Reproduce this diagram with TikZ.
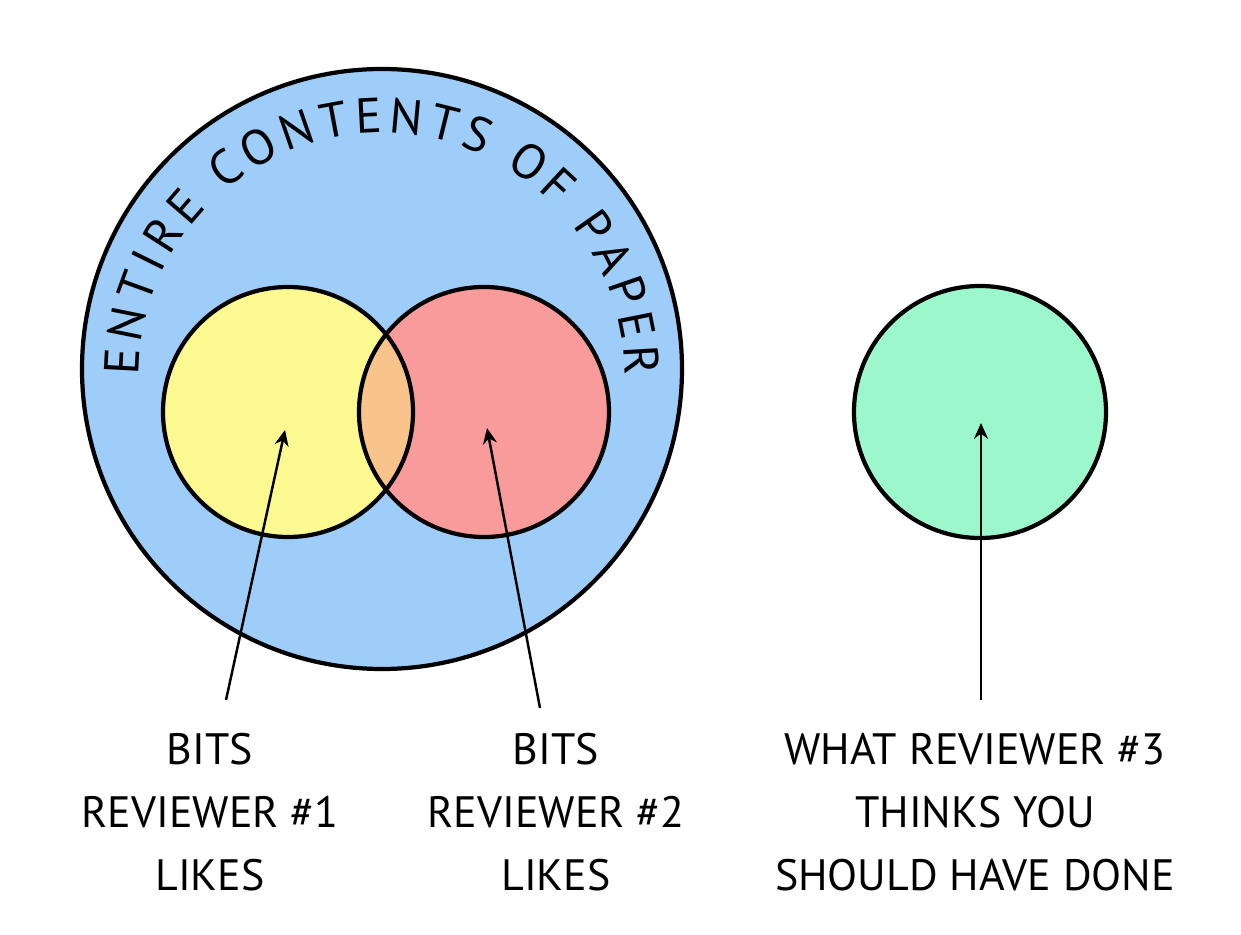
\documentclass[tikz,border=0pt]{standalone}
\usepackage{fontspec}
\setmainfont{PT Sans}
\usetikzlibrary{decorations.text,arrows.meta}
\definecolor{bigblue}{HTML}{9DCDF8}
\definecolor{yel}{HTML}{FBF98F}
\definecolor{redc}{HTML}{F99B9B}
\definecolor{ovl}{HTML}{F8C48C}
\definecolor{grn}{HTML}{9CF8CC}
\begin{document}
\begin{tikzpicture}[x=0.02cm,y=-0.02cm,
  ln/.style={line width=2.4pt,draw=black},
  lab/.style={font=\fontsize{25}{32}\selectfont,align=center,inner sep=0pt},
  arr/.style={line width=1.4pt,-{Stealth[length=9pt,width=8pt]}}]
\useasboundingbox (0,0) rectangle (1241,935);
\fill[white] (0,0) rectangle (1241,935);
\node[circle,minimum size=600*0.02cm,fill=bigblue,ln] (big) at (382,369) {};
\coordinate (yc) at (288,412);
\coordinate (rc) at (484,412);
\fill[yel] (yc) circle[radius=125];
\fill[redc] (rc) circle[radius=125];
\begin{scope}
\clip (yc) circle[radius=125];
\fill[ovl] (rc) circle[radius=125];
\end{scope}
\node[circle,minimum size=250*0.02cm,ln] (yel) at (yc) {};
\node[circle,minimum size=250*0.02cm,ln] (red) at (rc) {};
\node[circle,minimum size=252*0.02cm,fill=grn,ln] (grn) at (980,412) {};
\path[decorate,decoration={text along path,text align=fit to path,
  text={|\fontsize{28}{30}\selectfont|ENTIRE CONTENTS OF PAPER}}]
  (382-243,376) arc[start angle=180,end angle=360,radius=243];
\node[lab] (l1) at (210,812) {BITS\\[4pt]REVIEWER \#1\\[4pt]LIKES};
\node[lab] (l2) at (556,812) {BITS\\[4pt]REVIEWER \#2\\[4pt]LIKES};
\node[lab] (l3) at (975,812) {WHAT REVIEWER \#3\\[4pt]THINKS YOU\\[4pt]SHOULD HAVE DONE};
\coordinate (a1) at (226,700); \coordinate (t1) at (285,430);
\coordinate (a2) at (540,708); \coordinate (t2) at (487,428);
\coordinate (a3) at (981,700); \coordinate (t3) at (981,423);
\draw[arr] (a1) -- (t1);
\draw[arr] (a2) -- (t2);
\draw[arr] (a3) -- (t3);
\end{tikzpicture}
\end{document}
